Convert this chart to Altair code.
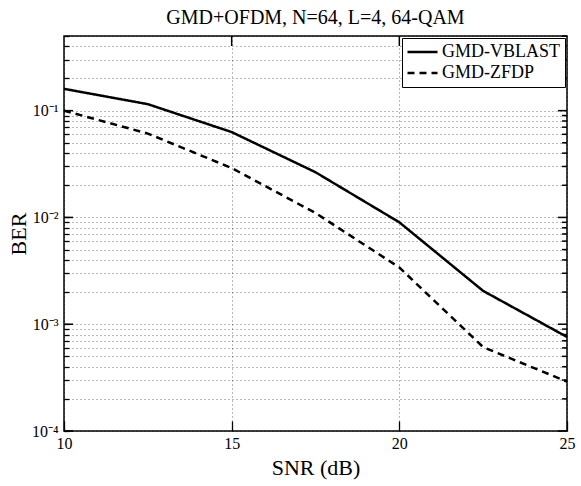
import altair as alt
import pandas as pd

# ---- data ----
snr = [10, 12.5, 15, 17.5, 20, 22.5, 25]
ber_vblast = [0.16, 0.115, 0.063, 0.0265, 0.009, 0.00205, 0.00076]
ber_zfdp = [0.1, 0.061, 0.029, 0.011, 0.0034, 0.00061, 0.00029]
series = ["GMD-VBLAST", "GMD-ZFDP"]

x_ticks = [10, 15, 20, 25]
x_inner_ticks = [15, 20]
y_decades = [1e-4, 1e-3, 1e-2, 1e-1]
y_minor = [m * d for d in y_decades for m in range(2, 10) if m * d <= 0.5 + 1e-12]
y_all = sorted(y_decades + y_minor)

FONT = "Liberation Serif"
W, H = 503, 395

df = pd.DataFrame({
    "snr": snr * 2,
    "ber": ber_vblast + ber_zfdp,
    "series": [series[0]] * len(snr) + [series[1]] * len(snr),
})

xs = alt.Scale(domain=[10, 25], nice=False, zero=False)
ys = alt.Scale(type="log", domain=[1e-4, 0.5], nice=False)

label_expr = (
    "abs(log(datum.value)/LN10 - round(log(datum.value)/LN10)) < 1e-6 ? "
    "(round(log(datum.value)/LN10) == -1 ? '10\u207b\u00b9' : "
    "round(log(datum.value)/LN10) == -2 ? '10\u207b\u00b2' : "
    "round(log(datum.value)/LN10) == -3 ? '10\u207b\u00b3' : '10\u207b\u2074') : ''"
)

lines = alt.Chart(df).mark_line(color="black", strokeWidth=2.5).encode(
    x=alt.X("snr:Q", scale=xs,
            axis=alt.Axis(values=x_ticks, title="SNR (dB)", labelPadding=14, titlePadding=6,
                          labelFlush=False, ticks=True, tickColor="black", tickWidth=1.3,
                          tickSize=alt.ExprRef(expr="-10"))),
    y=alt.Y("ber:Q", scale=ys,
            axis=alt.Axis(values=y_all, labelExpr=label_expr, title="BER", labelPadding=11,
                          titleX=-39, titleBaseline="alphabetic",
                          ticks=True, tickColor="black", tickWidth=1.3,
                          tickSize=alt.ExprRef(expr="-5"))),
    strokeDash=alt.StrokeDash(
        "series:N",
        scale=alt.Scale(domain=series, range=[[1, 0], [7, 5]]),
        legend=alt.Legend(title=None, orient="top-right", offset=2),
    ),
)

ymaj = pd.DataFrame({"ber": y_decades})
ymin = pd.DataFrame({"ber": y_minor})
xdf = pd.DataFrame({"snr": x_inner_ticks})

rule = dict(color="black", strokeWidth=1.5)

left_major = alt.Chart(ymaj).mark_rule(**rule).encode(
    y=alt.Y("ber:Q", scale=ys), x=alt.value(0), x2=alt.value(9))
right_major = alt.Chart(ymaj).mark_rule(**rule).encode(
    y=alt.Y("ber:Q", scale=ys), x=alt.value(W - 9), x2=alt.value(W))
right_minor = alt.Chart(ymin).mark_rule(**rule).encode(
    y=alt.Y("ber:Q", scale=ys), x=alt.value(W - 5), x2=alt.value(W))
top_ticks = alt.Chart(xdf).mark_rule(**rule).encode(
    x=alt.X("snr:Q", scale=xs), y=alt.value(0), y2=alt.value(10))

chart = alt.layer(
    left_major, right_major, right_minor, top_ticks, lines
).properties(
    width=W, height=H,
    background="white",
    title=alt.TitleParams("GMD+OFDM, N=64, L=4, 64-QAM", anchor="middle", font=FONT,
                          fontSize=20, fontWeight="normal", color="black", offset=7),
    autosize=alt.AutoSizeParams(type="none"),
    padding={"left": 64, "top": 36, "right": 14, "bottom": 55},
).configure_view(
    stroke="black", strokeWidth=1.5
).configure_axis(
    labelFont=FONT, labelFontSize=16, labelColor="black",
    titleFont=FONT, titleFontSize=22, titleFontWeight="normal", titleColor="black",
    domain=False, grid=True,
    gridColor="#000000", gridDash=[1, 3], gridWidth=1, gridOpacity=0.55,
).configure_legend(
    labelFont=FONT, labelFontSize=18, labelColor="black",
    fillColor="white", strokeColor="black", padding=4,
    symbolType="stroke", symbolStrokeColor="black", symbolStrokeWidth=2.5,
    symbolSize=900, clipHeight=20, rowPadding=1, labelOffset=3,
)

chart.save("out.html", embed_options={"renderer": "svg", "actions": False})
